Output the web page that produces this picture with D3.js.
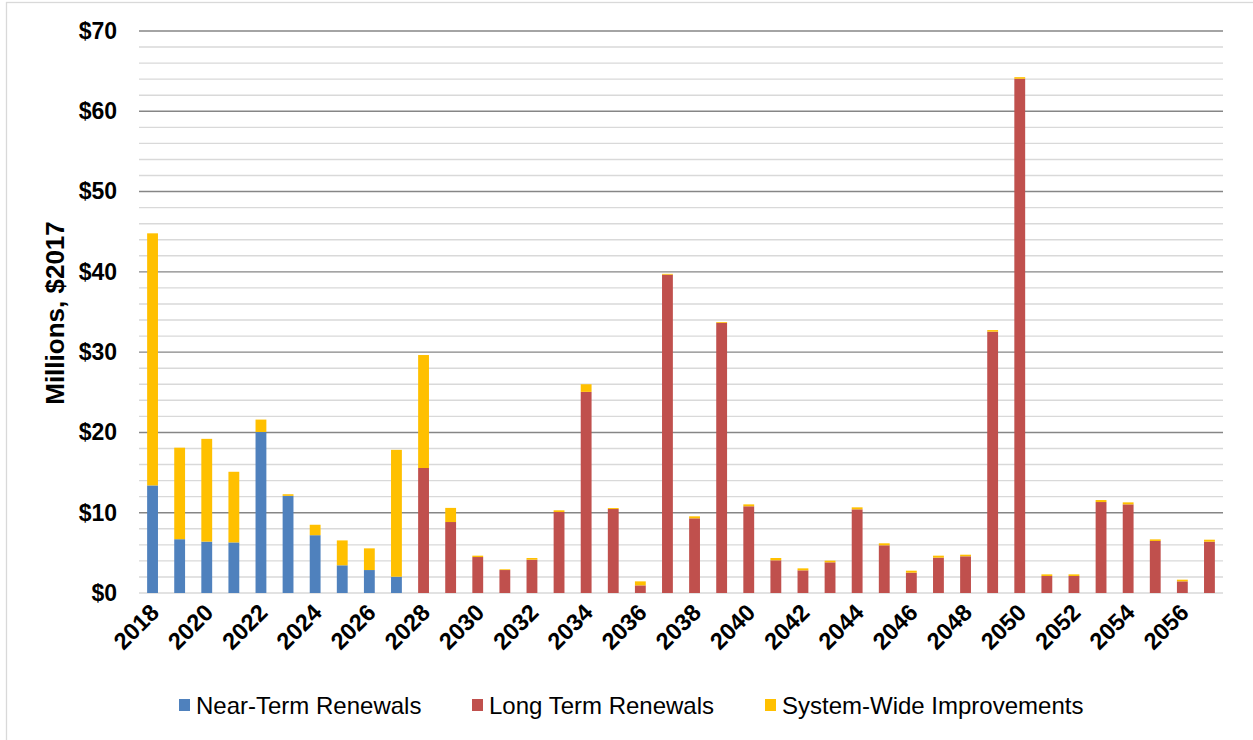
<!DOCTYPE html>
<html>
<head>
<meta charset="utf-8">
<script src="https://cdn.jsdelivr.net/npm/d3@7"></script>
<style>
  html, body { margin: 0; padding: 0; background: #fff; }
  svg { display: block; font-family: "Liberation Sans", Arial, sans-serif; }
</style>
</head>
<body>
<svg id="chart" width="1253" height="740"></svg>
<script>
const years = d3.range(2018, 2058);
const tickYears = d3.range(2018, 2058, 2);
const nearTerm = [13.4, 6.7, 6.4, 6.3, 20.05, 12.1, 7.2, 3.45, 2.86, 2.03,
  0, 0, 0, 0, 0, 0, 0, 0, 0, 0,
  0, 0, 0, 0, 0, 0, 0, 0, 0, 0,
  0, 0, 0, 0, 0, 0, 0, 0, 0, 0];
const longTerm = [0, 0, 0, 0, 0, 0, 0, 0, 0, 0,
  15.57, 8.84, 4.48, 2.86, 4.15, 10.09, 25.05, 10.46, 0.95, 39.65,
  9.3, 33.65, 10.8, 4.07, 2.82, 3.82, 10.42, 5.94, 2.53, 4.4,
  4.57, 32.55, 64.05, 2.12, 2.12, 11.33, 11.04, 6.48, 1.45, 6.39];
const systemWide = [31.4, 11.4, 12.8, 8.8, 1.55, 0.2, 1.3, 3.1, 2.7, 15.8,
  14.07, 1.76, 0.17, 0.09, 0.21, 0.21, 0.95, 0.12, 0.5, 0.1,
  0.25, 0.1, 0.24, 0.29, 0.25, 0.21, 0.25, 0.25, 0.25, 0.25,
  0.2, 0.2, 0.2, 0.2, 0.2, 0.25, 0.25, 0.2, 0.21, 0.25];
const seriesNames = ["Near-Term Renewals", "Long Term Renewals", "System-Wide Improvements"];
const seriesColors = ["#4F81BD", "#C0504D", "#FFC000"];
const yMajorTicks = [0, 10, 20, 30, 40, 50, 60, 70];
const yMinorTicks = d3.range(0, 71, 2);

const svg = d3.select("#chart");
const plotL = 139, plotR = 1223, plotT = 31, plotB = 593;

// outer frame
svg.append("rect").attr("x", 6.5).attr("y", 2.5).attr("width", 1260).attr("height", 760)
  .attr("fill", "none").attr("stroke", "#d9d9d9").attr("stroke-width", 1.3);

const x = d3.scaleBand().domain(years).range([plotL, plotR]).paddingInner(0.6).paddingOuter(0.3);
const y = d3.scaleLinear().domain([0, 70]).range([plotB, plotT]);

// gridlines
svg.append("g").selectAll("line").data(yMinorTicks.filter(v => v % 10 !== 0 || v === 0)).join("line")
  .attr("x1", plotL).attr("x2", plotR)
  .attr("y1", d => y(d)).attr("y2", d => y(d))
  .attr("stroke", "#d9d9d9").attr("stroke-width", 1.4);
svg.append("g").selectAll("line").data(yMajorTicks.filter(v => v > 0)).join("line")
  .attr("x1", plotL).attr("x2", plotR)
  .attr("y1", d => y(d)).attr("y2", d => y(d))
  .attr("stroke", "#868686").attr("stroke-width", 1.4);

// stacked data
const rows = years.map((yr, i) => ({ year: yr, near: nearTerm[i], long: longTerm[i], sys: systemWide[i] }));
const stack = d3.stack().keys(["near", "long", "sys"]);
const stacked = stack(rows);

svg.append("g").selectAll("g").data(stacked).join("g")
  .attr("fill", (d, i) => seriesColors[i])
  .selectAll("rect").data(d => d).join("rect")
  .attr("x", d => x(d.data.year))
  .attr("width", x.bandwidth())
  .attr("y", d => y(d[1]))
  .attr("height", d => Math.max(0, y(d[0]) - y(d[1])));

// y axis labels
const yAxis = d3.axisLeft(y).tickValues(yMajorTicks).tickSize(0).tickPadding(0)
  .tickFormat(d => "$" + d);
const yg = svg.append("g").attr("transform", `translate(117,0)`).call(yAxis);
yg.select(".domain").remove();
yg.selectAll("text").attr("font-size", 23).attr("font-weight", "bold").attr("fill", "#000")
  .attr("font-family", "Liberation Sans, Arial, sans-serif");

// x axis labels
const xAxis = d3.axisBottom(x).tickValues(tickYears).tickSize(0).tickPadding(0);
const xg = svg.append("g").attr("transform", `translate(0,${plotB})`).call(xAxis);
xg.select(".domain").remove();
xg.selectAll(".tick text")
  .attr("font-size", 23.5).attr("font-weight", "bold").attr("fill", "#000")
  .attr("font-family", "Liberation Sans, Arial, sans-serif")
  .attr("text-anchor", "end")
  .attr("dy", null).attr("y", null)
  .attr("transform", "translate(8,21) rotate(-45)");

// y title
svg.append("text")
  .attr("transform", "translate(64,313) rotate(-90)")
  .attr("text-anchor", "middle")
  .attr("font-size", 26).attr("font-weight", "bold").attr("fill", "#000")
  .text("Millions, $2017");

// legend
const legendX = [179, 472, 765];
const lg = svg.append("g").selectAll("g").data(seriesNames).join("g")
  .attr("transform", (d, i) => `translate(${legendX[i]},699)`);
lg.append("rect").attr("width", 11).attr("height", 12).attr("fill", (d, i) => seriesColors[i]);
lg.append("text").attr("x", 17).attr("y", 14.5).attr("font-size", 24).attr("fill", "#000").text(d => d);
</script>
</body>
</html>
